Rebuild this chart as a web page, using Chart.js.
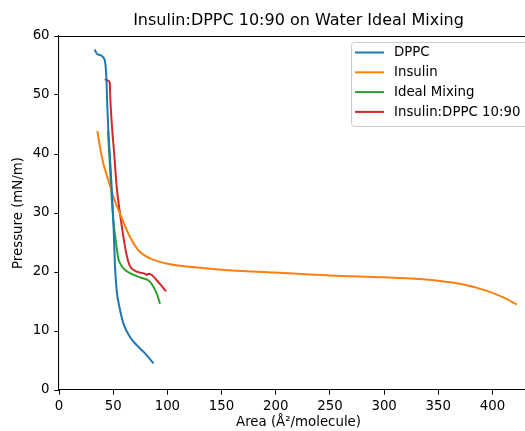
<!DOCTYPE html>
<html><head><meta charset="utf-8">
<script src="https://cdn.jsdelivr.net/npm/chart.js@4"></script>
<style>html,body{margin:0;padding:0;background:#fff}#wrap{width:525px;height:431px}</style>
</head><body><div id="wrap"><canvas id="c" width="525" height="431"></canvas></div>
<script>
const TITLE = "Insulin:DPPC 10:90 on Water Ideal Mixing";
const X_LABEL = "Area (Å²/molecule)";
const Y_LABEL = "Pressure (mN/m)";
const SERIES_NAMES = ["DPPC", "Insulin", "Ideal Mixing", "Insulin:DPPC 10:90"];
const SERIES_COLORS = ["#1f77b4", "#ff7f0e", "#2ca02c", "#d62728"];
const X_TICK_STEP = 50;
const Y_TICK_STEP = 10;

const dppcArea = [32.9, 35.4, 39.0, 41.5, 42.7, 43.7, 44.6, 45.4, 47.7, 50.1, 50.8, 51.7, 53.2, 55.7, 59.4, 65.5, 71.7, 79.4, 87.3];
const dppcPressure = [57.7, 56.9, 56.7, 56.2, 55.4, 53.1, 48.0, 44.5, 37.3, 28.8, 25.4, 20.9, 16.9, 14.1, 11.3, 9.0, 7.6, 6.2, 4.5];

const insulinArea = [35.4, 37.8, 40.9, 45.5, 50.1, 56.3, 62.5, 67.1, 74.8, 84, 102.5, 125, 150, 200, 250, 300, 333, 350, 370, 395, 410, 422.5];
const insulinPressure = [43.9, 41.2, 38.4, 35.6, 32.8, 29.9, 27.1, 25.4, 23.4, 22.3, 21.3, 20.8, 20.4, 19.9, 19.4, 19.1, 18.8, 18.5, 18.0, 16.8, 15.7, 14.5];

const idealArea = [45.2, 46.4, 48.0, 50.1, 52.6, 54.7, 57.0, 59.4, 65.5, 74.8, 82.4, 85.0, 87.1, 90.7, 93.2];
const idealPressure = [43.9, 40.1, 34.5, 28.8, 25.0, 22.3, 21.3, 20.6, 19.8, 19.1, 18.6, 18.1, 17.5, 16.1, 14.6];

const mixArea = [42.2, 44.6, 46.8, 47.4, 48.9, 50.8, 53.2, 56.3, 59.4, 62.5, 65.5, 70.2, 74.8, 79.4, 81.0, 82.4, 85.6, 90.2, 94.8, 98.8];
const mixPressure = [52.7, 52.5, 52.1, 49.2, 44.6, 40.4, 34.5, 29.9, 26.0, 22.8, 21.0, 20.2, 19.9, 19.7, 19.5, 19.7, 19.5, 18.6, 17.6, 16.7];

// visible x range (axes continue past the right edge of the picture up to X_FULL_MAX)
const X_MIN = 0, X_MAX = 430, X_FULL_MAX = 442, Y_MIN = 0, Y_MAX = 60;

const FONT = "DejaVu Sans";
function pts(xs, ys) { return xs.map((x, i) => ({x: x, y: ys[i]})); }
const seriesData = [pts(dppcArea, dppcPressure), pts(insulinArea, insulinPressure), pts(idealArea, idealPressure), pts(mixArea, mixPressure)];

const frameAndText = {
  id: 'frameAndText',
  afterDraw(chart) {
    const ctx = chart.ctx, a = chart.chartArea, xs = chart.scales.x;
    const cx = (xs.getPixelForValue(X_MIN) + xs.getPixelForValue(X_FULL_MAX)) / 2;
    ctx.save();
    // top spine
    ctx.strokeStyle = '#000';
    ctx.lineWidth = 1.07;
    ctx.beginPath();
    ctx.moveTo(a.left, Math.round(a.top) + 0.5);
    ctx.lineTo(a.right, Math.round(a.top) + 0.5);
    ctx.stroke();
    // title
    ctx.fillStyle = '#000';
    ctx.font = '16px "' + FONT + '"';
    ctx.textAlign = 'center';
    ctx.textBaseline = 'middle';
    ctx.fillText(TITLE, cx, 20.5);
    // x axis label
    ctx.font = '13.33px "' + FONT + '"';
    ctx.fillText(X_LABEL, cx, 422.5);
    // legend
    const bx = 351.5, by = 42.5, bw = 190, bh = 84, r = 3;
    ctx.beginPath();
    ctx.moveTo(bx + r, by);
    ctx.lineTo(bx + bw - r, by);
    ctx.arcTo(bx + bw, by, bx + bw, by + r, r);
    ctx.lineTo(bx + bw, by + bh - r);
    ctx.arcTo(bx + bw, by + bh, bx + bw - r, by + bh, r);
    ctx.lineTo(bx + r, by + bh);
    ctx.arcTo(bx, by + bh, bx, by + bh - r, r);
    ctx.lineTo(bx, by + r);
    ctx.arcTo(bx, by, bx + r, by, r);
    ctx.closePath();
    ctx.fillStyle = 'rgba(255,255,255,0.8)';
    ctx.fill();
    ctx.strokeStyle = '#cccccc';
    ctx.lineWidth = 1;
    ctx.stroke();
    ctx.font = '13.33px "' + FONT + '"';
    ctx.textAlign = 'left';
    ctx.textBaseline = 'middle';
    chart.data.datasets.forEach((ds, i) => {
      const yy = 52.5 + i * 19.8;
      ctx.strokeStyle = ds.borderColor;
      ctx.lineWidth = 2;
      ctx.beginPath();
      ctx.moveTo(355, yy);
      ctx.lineTo(384, yy);
      ctx.stroke();
      ctx.fillStyle = '#000';
      ctx.fillText(ds.label, 394, yy + 0.5);
    });
    ctx.restore();
  }
};

new Chart(document.getElementById('c'), {
  type: 'scatter',
  data: {
    datasets: SERIES_NAMES.map((name, i) => ({
      label: name,
      data: seriesData[i],
      borderColor: SERIES_COLORS[i],
      backgroundColor: SERIES_COLORS[i],
      borderWidth: 2,
      showLine: true,
      pointRadius: 0,
      cubicInterpolationMode: 'monotone',
      fill: false
    }))
  },
  options: {
    responsive: false,
    animation: false,
    devicePixelRatio: 1,
    layout: { padding: { left: 0, right: 0, top: 36, bottom: 0 } },
    plugins: {
      legend: { display: false },
      title: { display: false },
      tooltip: { enabled: false }
    },
    scales: {
      x: {
        type: 'linear', min: X_MIN, max: X_MAX,
        ticks: { stepSize: X_TICK_STEP, includeBounds: false, color: '#000', font: { family: FONT, size: 13.33 }, padding: 4.2, maxRotation: 0, autoSkip: false },
        grid: { drawOnChartArea: false, drawTicks: true, tickLength: 4.7, tickColor: '#000', tickWidth: 1 },
        border: { display: true, color: '#000', width: 1.07 },
        title: { display: false },
        afterFit: s => { s.height = 41; }
      },
      y: {
        type: 'linear', min: Y_MIN, max: Y_MAX,
        ticks: { stepSize: Y_TICK_STEP, includeBounds: false, color: '#000', font: { family: FONT, size: 13.33 }, padding: 4.7 },
        grid: { drawOnChartArea: false, drawTicks: true, tickLength: 4.7, tickColor: '#000', tickWidth: 1 },
        border: { display: true, color: '#000', width: 1.07 },
        title: { display: true, text: Y_LABEL, color: '#000', font: { family: FONT, size: 13.33 }, padding: { top: 11, bottom: 0 } },
        afterFit: s => { s.width = 59; }
      }
    }
  },
  plugins: [frameAndText]
});
</script>
</body></html>
